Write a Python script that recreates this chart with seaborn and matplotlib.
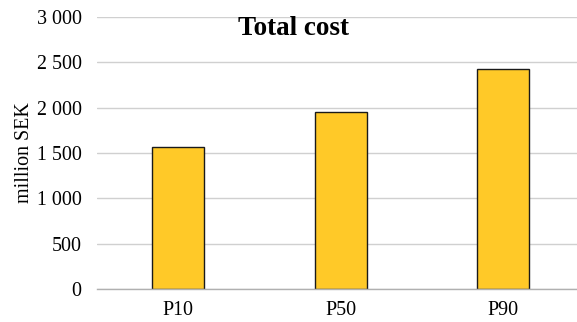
import matplotlib
matplotlib.use("Agg")
import matplotlib.pyplot as plt
import seaborn as sns
import pandas as pd

# Cost estimates by percentile (million SEK)
categories = ["P10", "P50", "P90"]
costs = [1565, 1950, 2425]
y_ticks = [0, 500, 1000, 1500, 2000, 2500, 3000]

df = pd.DataFrame({"scenario": categories, "cost": costs})

sns.set_theme(style="white")
plt.rcParams["font.family"] = ["Liberation Serif", "DejaVu Serif"]
plt.rcParams["text.color"] = "black"
plt.rcParams["axes.labelcolor"] = "black"

fig = plt.figure(figsize=(5.77, 3.22), dpi=100)
ax = fig.add_axes([0.168, 0.1025, 0.845, 0.845])

sns.barplot(data=df, x="scenario", y="cost", color="#FFC928", saturation=1,
            width=0.32, edgecolor="#1a1a1a", linewidth=1.0, ax=ax, zorder=3)

ax.set_ylim(0, 3000)
ax.set_xlim(-0.5, 2.5)
ax.set_yticks(y_ticks)
# thousands separated by a space
ax.set_yticklabels([f"{v:,}".replace(",", " ") for v in y_ticks])
ax.yaxis.grid(True, color="#D0D0D0", linewidth=1.0, zorder=0)
ax.set_axisbelow(True)

for side in ["top", "right", "left"]:
    ax.spines[side].set_visible(False)
ax.spines["bottom"].set_color("#B0B0B0")
ax.spines["bottom"].set_linewidth(1.0)
ax.spines["bottom"].set_zorder(4)

ax.tick_params(axis="both", length=0, labelsize=14.4, colors="black")
ax.tick_params(axis="y", pad=11)
ax.tick_params(axis="x", pad=9)
ax.set_xlabel("")
ax.set_ylabel("million SEK", fontsize=14.4, labelpad=2)

fig.text(0.508, 0.913, "Total cost", ha="center", va="center",
         fontsize=19.5, fontweight="bold")

fig.savefig("out.png", dpi=100)
